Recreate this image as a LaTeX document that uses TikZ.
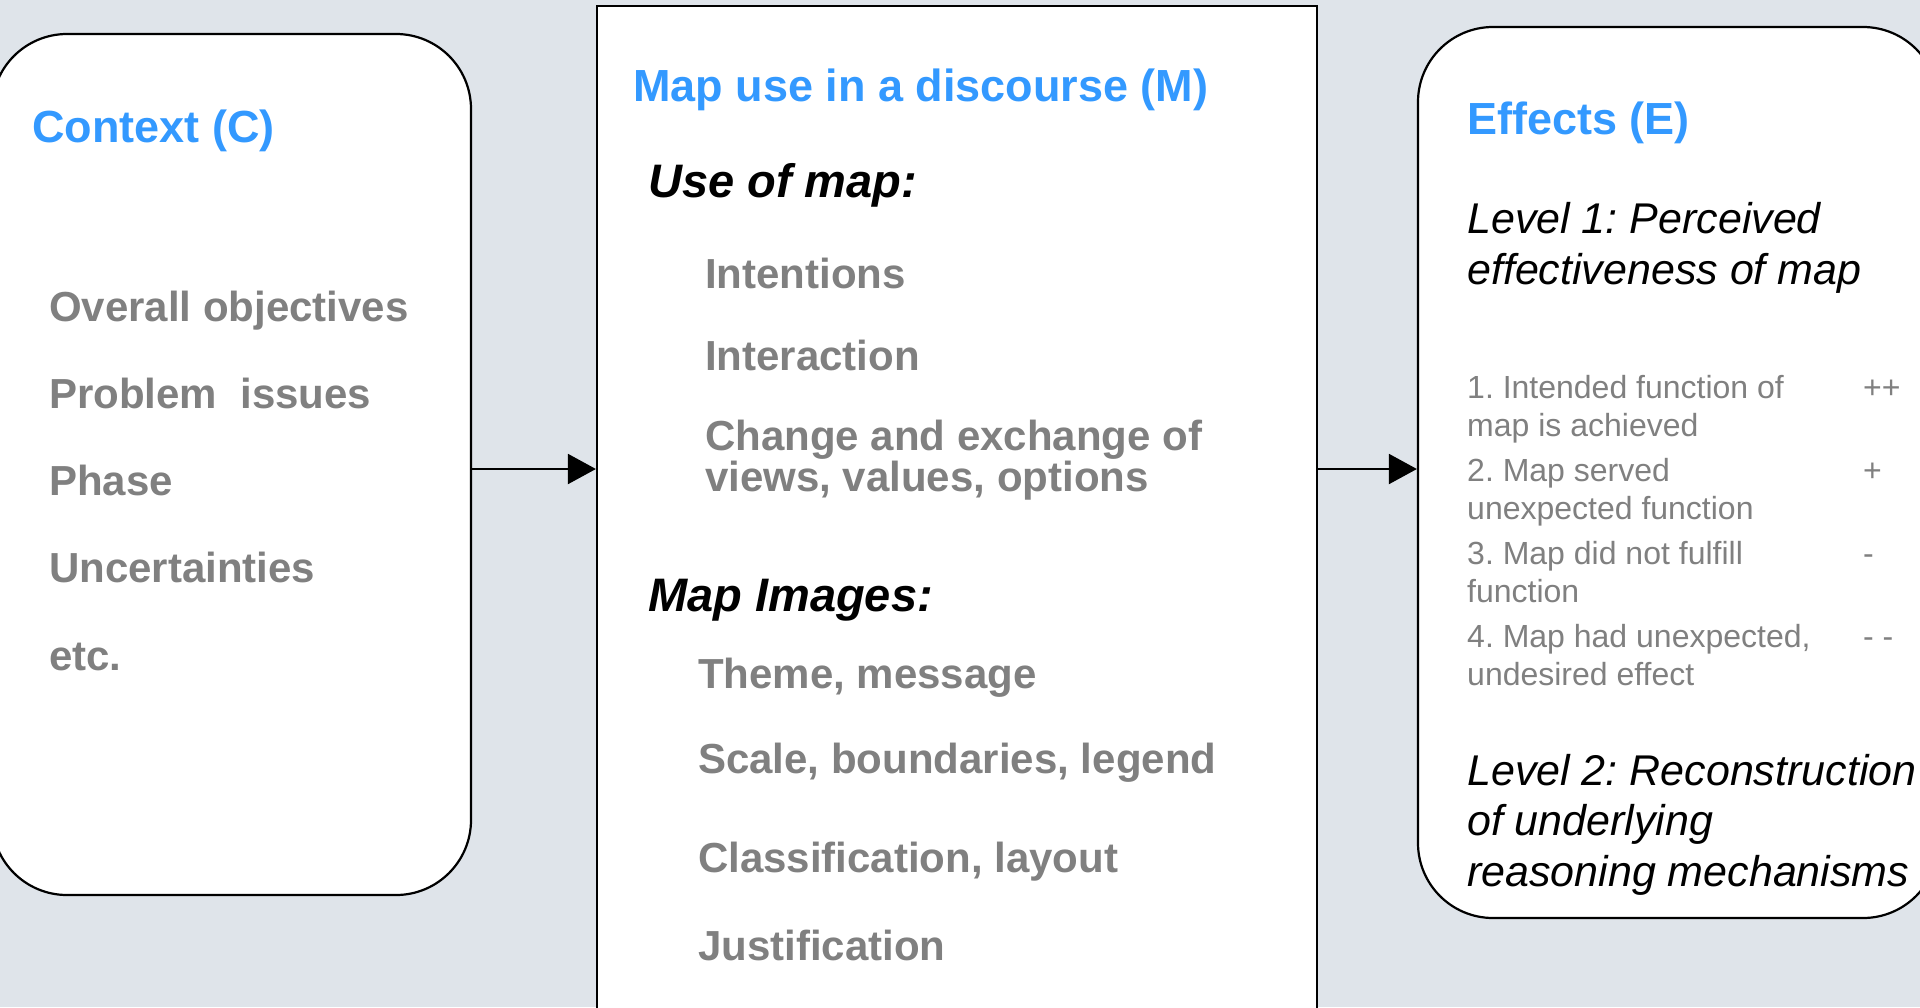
\documentclass[tikz,border=0pt]{standalone}
\usepackage{fontspec}
\setmainfont{Liberation Sans}
\usetikzlibrary{arrows.meta}
\frenchspacing
\definecolor{bgcol}{RGB}{223,228,234}
\definecolor{headblue}{RGB}{51,153,255}
\definecolor{itemgrey}{RGB}{128,128,128}
\tikzset{
  panel/.style={draw=black, line width=2.2pt, fill=white, inner sep=0pt},
  flow/.style={line width=2pt, -{Triangle[length=28pt,width=30pt]}},
  head/.style={anchor=base west, inner sep=0pt, text=headblue, font=\fontsize{45}{54}\selectfont\bfseries},
  sub/.style={anchor=base west, inner sep=0pt, font=\fontsize{47}{54}\selectfont\bfseries\itshape},
  item/.style={anchor=base west, inner sep=0pt, text=itemgrey, align=left, font=\fontsize{42}{39}\selectfont\bfseries},
  level/.style={anchor=base west, inner sep=0pt, align=left, font=\fontsize{43}{50.5}\selectfont\itshape},
  effect/.style={anchor=base west, inner sep=0pt, text=itemgrey, align=left, font=\fontsize{32}{38}\selectfont},
}
\begin{document}
\begin{tikzpicture}[x=1pt,y=1pt,yscale=-1,xscale=1]
		\useasboundingbox (0,0) rectangle (1920,1007);
		\fill[bgcol] (0,0) rectangle (1920,1007);
		\clip (0,0) rectangle (1920,1007);

		%Shape: Rounded Rect [id:ctx]
		\node [panel, rounded corners=75pt, minimum width=479pt, minimum height=861pt] (ctx) at (231.5,464.5) {};
		%Shape: Rectangle [id:mapuse]
		\node [panel, minimum width=720pt, minimum height=1034pt] (mapuse) at (957,523) {};
		%Shape: Rounded Rect [id:effects]
		\node [panel, rounded corners=75pt, minimum width=520pt, minimum height=891pt] (effects) at (1678,472.5) {};

		%Straight Lines [id:ctx-mapuse]
		\draw [flow] (ctx.east |- 0,469) -- (mapuse.west |- 0,469);
		%Straight Lines [id:mapuse-effects]
		\draw [flow] (mapuse.east |- 0,469) -- (effects.west |- 0,469);

		% Text Node
		\node [head] (ctxhead) at (32,142) {Context (C)};
		% Text Node
		\node [item] (ctx1) at (49,321) {Overall objectives};
		% Text Node
		\node [item] (ctx2) at (49,408) {Problem\ \ issues};
		% Text Node
		\node [item] (ctx3) at (49,495) {Phase};
		% Text Node
		\node [item] (ctx4) at (49,582) {Uncertainties};
		% Text Node
		\node [item] (ctx5) at (49,670) {etc.};

		% Text Node
		\node [head] (mhead) at (633,101) {Map use in a discourse (M)};
		% Text Node
		\node [sub] (usehead) at (648,197) {Use of map:};
		% Text Node
		\node [item] (use1) at (705,288) {Intentions};
		% Text Node
		\node [item] (use2) at (705,370) {Interaction};
		% Text Node (base = last line)
		\node [item] (use3) at (705,491) {Change and exchange of\\views, values, options};
		% Text Node
		\node [sub] (imghead) at (648,611) {Map Images:};
		% Text Node
		\node [item] (img1) at (698,688) {Theme, message};
		% Text Node
		\node [item] (img2) at (698,773) {Scale, boundaries, legend};
		% Text Node
		\node [item] (img3) at (698,872) {Classification, layout};
		% Text Node
		\node [item] (img4) at (698,960) {Justification};

		% Text Node
		\node [head] (ehead) at (1467,134) {Effects (E)};
		% Text Node
		\node [level] (lvl1) at (1467,284) {Level 1: Perceived\\effectiveness of map};
		% Text Node
		\node [effect] (eff1) at (1467,436) {1. Intended function of\\map is achieved};
		\node [effect] (sign1) at (1863,398) {++};
		% Text Node
		\node [effect] (eff2) at (1467,519) {2. Map served\\unexpected function};
		\node [effect] (sign2) at (1863,481) {+};
		% Text Node
		\node [effect] (eff3) at (1467,602) {3. Map did not fulfill\\function};
		\node [effect] (sign3) at (1863,564) {-};
		% Text Node
		\node [effect] (eff4) at (1467,685) {4. Map had unexpected,\\undesired effect};
		\node [effect] (sign4) at (1863,647) {- -};
		% Text Node
		\node [level] (lvl2) at (1467,886) {Level 2: Reconstruction\\of underlying\\reasoning mechanisms};
\end{tikzpicture}
\end{document}
